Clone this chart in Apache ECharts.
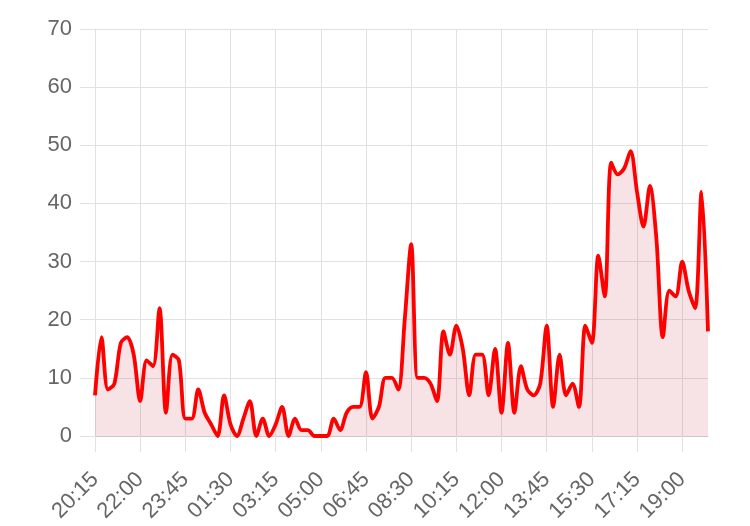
<!DOCTYPE html>
<html>
<head>
<meta charset="utf-8">
<script src="https://cdn.jsdelivr.net/npm/echarts@6/dist/echarts.min.js"></script>
<style>
  html, body { margin: 0; padding: 0; background: #fff; }
  #chart { width: 750px; height: 526px; }
</style>
</head>
<body>
<div id="chart"></div>
<script>
// 15 分钟一个点，20:15 到次日 20:00
const times = [
  '20:15', '20:30', '20:45', '21:00', '21:15', '21:30', '21:45', '22:00',
  '22:15', '22:30', '22:45', '23:00', '23:15', '23:30', '23:45', '00:00',
  '00:15', '00:30', '00:45', '01:00', '01:15', '01:30', '01:45', '02:00',
  '02:15', '02:30', '02:45', '03:00', '03:15', '03:30', '03:45', '04:00',
  '04:15', '04:30', '04:45', '05:00', '05:15', '05:30', '05:45', '06:00',
  '06:15', '06:30', '06:45', '07:00', '07:15', '07:30', '07:45', '08:00',
  '08:15', '08:30', '08:45', '09:00', '09:15', '09:30', '09:45', '10:00',
  '10:15', '10:30', '10:45', '11:00', '11:15', '11:30', '11:45', '12:00',
  '12:15', '12:30', '12:45', '13:00', '13:15', '13:30', '13:45', '14:00',
  '14:15', '14:30', '14:45', '15:00', '15:15', '15:30', '15:45', '16:00',
  '16:15', '16:30', '16:45', '17:00', '17:15', '17:30', '17:45', '18:00',
  '18:15', '18:30', '18:45', '19:00', '19:15', '19:30', '19:45', '20:00'
]

const counts = [
  7, 17, 8, 9, 16, 17, 14, 6, 13, 12, 22, 4, 14, 13, 3, 3,
  8, 4, 2, 0, 7, 2, 0, 3, 6, 0, 3, 0, 2, 5, 0, 3,
  1, 1, 0, 0, 0, 3, 1, 4, 5, 5, 11, 3, 5, 10, 10, 8,
  20, 33, 10, 10, 9, 6, 18, 14, 19, 15, 7, 14, 14, 7,
  15, 4, 16, 4, 12, 8, 7, 9, 19, 5, 14, 7, 9, 5, 19, 16,
  31, 24, 47, 45, 46, 49, 42, 36, 43, 34, 17, 25, 24, 30, 25, 22, 42, 18
]

const yMin = 0
const yMax = 70
const yStep = 10

const chart = echarts.init(document.getElementById('chart'))
const gridColor = '#e1e1e1'
const labelFont = {
  color: '#666',
  fontSize: 22,
  fontFamily: 'Liberation Sans, Arial, sans-serif'
}

chart.setOption({
  animation: false,
  grid: {
    left: 95,
    right: 42,
    top: 29,
    bottom: 90
  },
  xAxis: {
    type: 'category',
    boundaryGap: false,
    data: times,
    axisLine: {
      lineStyle: { color: '#c9c9c9', width: 1 }
    },
    axisTick: {
      show: true,
      interval: 6,
      length: 16,
      lineStyle: { color: gridColor }
    },
    axisLabel: Object.assign({
      interval: 6,
      rotate: 45,
      margin: 40
    }, labelFont),
    splitLine: {
      show: true,
      interval: 6,
      lineStyle: { color: gridColor }
    }
  },
  yAxis: {
    type: 'value',
    min: yMin,
    max: yMax,
    interval: yStep,
    axisLine: {
      show: true,
      lineStyle: { color: gridColor }
    },
    axisTick: {
      show: true,
      length: 15,
      lineStyle: { color: gridColor }
    },
    axisLabel: Object.assign({ margin: 23 }, labelFont),
    splitLine: {
      lineStyle: { color: gridColor }
    }
  },
  series: [{
    type: 'line',
    data: counts,
    smooth: 0.3,
    showSymbol: false,
    lineStyle: { color: '#ff0000', width: 3.8 },
    areaStyle: { color: 'rgba(200, 50, 70, 0.2)' }
  }]
})
</script>
</body>
</html>
